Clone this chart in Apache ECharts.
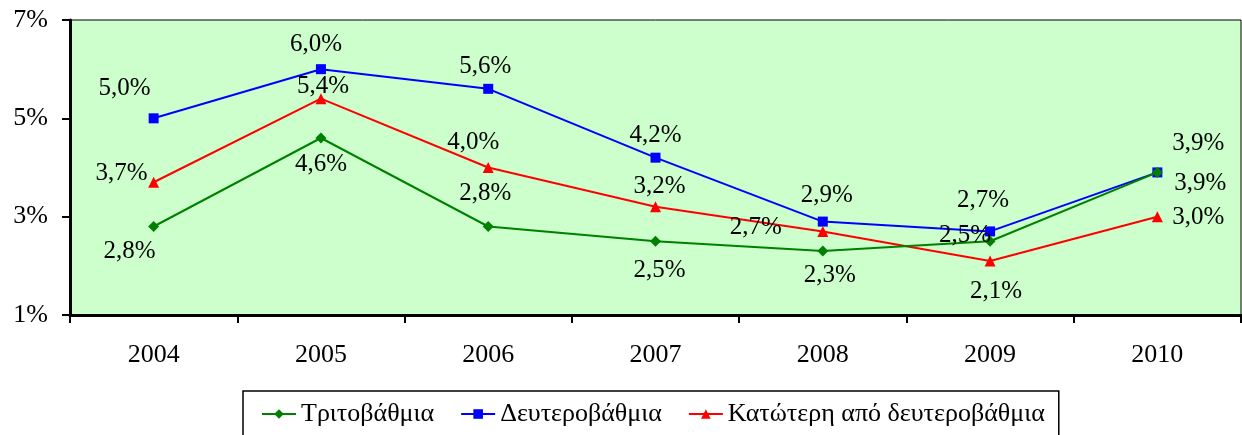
<!DOCTYPE html>
<html><head><meta charset="utf-8">
<script src="https://cdn.jsdelivr.net/npm/echarts@6/dist/echarts.min.js"></script>
<style>html,body{margin:0;padding:0;background:#fff}#c{width:1242px;height:435px}</style>
</head><body><div id="c"></div>
<script>
const years = ['2004','2005','2006','2007','2008','2009','2010'];
const tertiary = [2.8, 4.6, 2.8, 2.5, 2.3, 2.5, 3.9];
const secondary = [5.0, 6.0, 5.6, 4.2, 2.9, 2.7, 3.9];
const lower = [3.7, 5.4, 4.0, 3.2, 2.7, 2.1, 3.0];
const names = ['Τριτοβάθμια', 'Δευτεροβάθμια', 'Κατώτερη από δευτεροβάθμια'];

const FONT = '"Liberation Serif", "Times New Roman", serif';
const offTert = [[-24,25],[0,26],[-3,-33],[4,29],[7,24],[-25,-6],[43,11]];
const offSec = [[-29,-30],[-5,-25],[-3,-22],[0,-22],[4,-26],[-7,-31],[41,-29]];
const offLow = [[-32,-9],[2,-12],[-15,-25],[4,-20],[-67,-4],[6,31],[41,1]];

function mk(vals, offs) {
  return vals.map((v, i) => ({
    value: v,
    label: { offset: offs[i] }
  }));
}
const lbl = {
  show: true, position: 'inside', align: 'center', verticalAlign: 'middle',
  fontFamily: FONT, fontSize: 25, color: '#000',
  formatter: p => p.value.toFixed(1).replace('.', ',') + '%'
};

const chart = echarts.init(document.getElementById('c'), null, {renderer: 'canvas'});
chart.setOption({
  animation: false,
  grid: { left: 70, right: 1, top: 20, bottom: 120, show: true, backgroundColor: '#CCFFCC', borderColor: '#000', borderWidth: 1 },
  legend: {
    left: 243, top: 391,
    borderColor: '#000', borderWidth: 1.5, padding: [10, 14, 14, 18],
    itemGap: 26, itemWidth: 34, itemHeight: 12,
    textStyle: { fontFamily: FONT, fontSize: 26, color: '#000' },
    data: names
  },
  xAxis: {
    type: 'category', data: years, boundaryGap: true,
    axisLine: { lineStyle: { color: '#000', width: 3 } },
    axisTick: { show: true, length: 8, lineStyle: { color: '#000', width: 2 } },
    axisLabel: { fontFamily: FONT, fontSize: 26, color: '#000', margin: 27 },
    splitLine: { show: false }
  },
  yAxis: {
    type: 'value', min: 1, max: 7, interval: 2,
    axisLine: { show: true, lineStyle: { color: '#000', width: 3 } },
    axisTick: { show: true, length: 8, lineStyle: { color: '#000', width: 2 } },
    axisLabel: { fontFamily: FONT, fontSize: 26, color: '#000', margin: 22, formatter: '{value}%' },
    splitLine: { show: false }
  },
  series: [
    { name: names[0], type: 'line', data: mk(tertiary, offTert), color: '#008000',
      symbol: 'diamond', symbolSize: 11, lineStyle: { width: 2 }, label: lbl, z: 3 },
    { name: names[1], type: 'line', data: mk(secondary, offSec), color: '#0000FF',
      symbol: 'rect', symbolSize: 10, lineStyle: { width: 2 }, label: lbl, z: 2 },
    { name: names[2], type: 'line', data: mk(lower, offLow), color: '#FF0000',
      symbol: 'triangle', symbolSize: 11, lineStyle: { width: 2 }, label: lbl, z: 2 }
  ]
});
</script></body></html>
